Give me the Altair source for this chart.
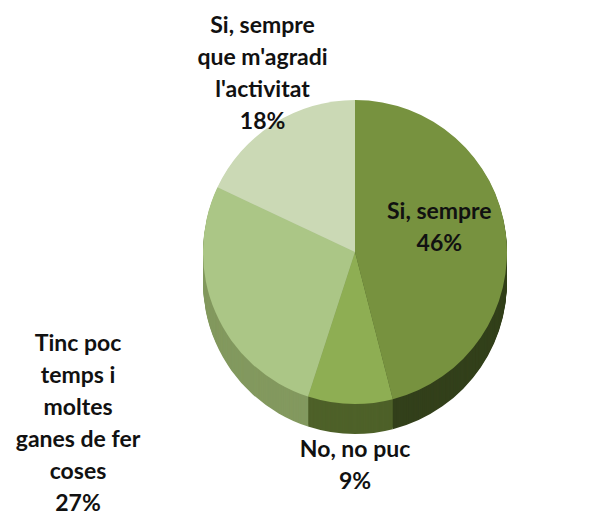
import altair as alt
import pandas as pd

# ---- data ----
labels = [
    "Si, sempre",
    "No, no puc",
    "Tinc poc\ntemps i\nmoltes\nganes de fer\ncoses",
    "Si, sempre\nque m'agradi\nl'activitat",
]
values = [46, 9, 27, 18]
pcts = ["46%", "9%", "27%", "18%"]
order_idx = [0, 1, 2, 3]

top_colors = ["#77923F", "#8EAE53", "#ABC686", "#CBD9B5"]
side_colors = ["#33401B", "#4E6129", "#83995F", "#A9BE8F"]

df = pd.DataFrame({
    "label": labels,
    "value": values,
    "pct": pcts,
    "order": order_idx,
})
df["text"] = df["label"] + "\n" + df["pct"]

W, H = 574, 508
CX, CY = 347, 244
R = 152
DEPTH = 30

base = alt.Chart(df)
theta = alt.Theta("value:Q", stack=True)
order = alt.Order("order:Q", sort="ascending")

layers = []
# side (depth) of the 3D pie
for d in range(DEPTH, 0, -1):
    layers.append(
        base.mark_arc(radius=R).encode(
            theta=theta,
            order=order,
            color=alt.Color("label:N", scale=alt.Scale(domain=labels, range=side_colors), legend=None),
            x=alt.value(CX),
            y=alt.value(CY + d),
        )
    )

# top face
layers.append(
    base.mark_arc(radius=R).encode(
        theta=theta,
        order=order,
        color=alt.Color("label:N", scale=alt.Scale(domain=labels, range=top_colors), legend=None),
        x=alt.value(CX),
        y=alt.value(CY),
    )
)

# labels: (slice index, radius, dx, dy) -- anchor is the first text line
label_pos = [(0, 85, 0, -29), (1, 190, 6, 8), (2, 280, -20, -19), (3, 180, 4, -74)]
for k, r, dx, dy in label_pos:
    layers.append(
        base.mark_text(
            radius=r, dx=dx, dy=dy, font="Lato", fontWeight="bold", fontSize=23,
            lineBreak="\n", lineHeight=32, align="center", baseline="middle", color="#111111",
        ).encode(
            theta=theta,
            order=order,
            detail="label:N",
            text=alt.condition(alt.datum.order == k, "text:N", alt.value("")),
            x=alt.value(CX),
            y=alt.value(CY),
        )
    )

chart = alt.layer(*layers).resolve_scale(color="independent").properties(
    width=W, height=H, autosize="none", padding=0, background="white"
).configure_view(stroke=None)

chart.save("out.html", embed_options={"renderer": "svg", "actions": False})
